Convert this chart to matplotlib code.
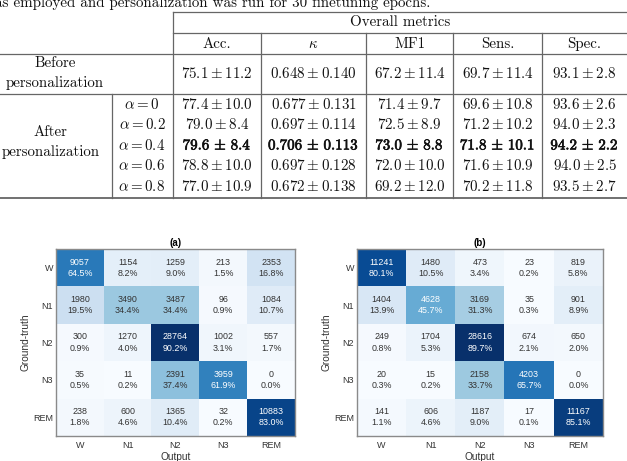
import numpy as np
import matplotlib.pyplot as plt
import matplotlib.patheffects as pe

plt.rcParams['mathtext.fontset'] = 'cm'

W, H = 627, 461

# ---- table data ----
metric_names = ["Acc.", r"$\kappa$", "MF1", "Sens.", "Spec."]
metric_decimals = [1, 3, 1, 1, 1]
before_mean = [75.1, 0.648, 67.2, 69.7, 93.1]
before_std = [11.2, 0.140, 11.4, 11.4, 2.8]
alphas = ["0", "0.2", "0.4", "0.6", "0.8"]
after_mean = [[77.4, 0.677, 71.4, 69.6, 93.6],
              [79.0, 0.697, 72.5, 71.2, 94.0],
              [79.6, 0.706, 73.0, 71.8, 94.2],
              [78.8, 0.697, 72.0, 71.6, 94.0],
              [77.0, 0.672, 69.2, 70.2, 93.5]]
after_std = [[10.0, 0.131, 9.7, 10.8, 2.6],
             [8.4, 0.114, 8.9, 10.2, 2.3],
             [8.4, 0.113, 8.8, 10.1, 2.2],
             [10.0, 0.128, 10.0, 10.9, 2.5],
             [10.9, 0.138, 12.0, 11.8, 2.7]]
best_row = 2
caption = "as employed and personalization was run for 30 finetuning epochs."

# ---- confusion matrices ----
stages = ["W", "N1", "N2", "N3", "REM"]
cm_a = [[9057, 1154, 1259, 213, 2353],
        [1980, 3490, 3487, 96, 1084],
        [300, 1270, 28764, 1002, 557],
        [35, 11, 2391, 3959, 0],
        [238, 600, 1365, 32, 10883]]
cm_b = [[11241, 1480, 473, 23, 819],
        [1404, 4628, 3169, 35, 901],
        [249, 1704, 28616, 674, 650],
        [20, 15, 2158, 4203, 0],
        [141, 606, 1187, 17, 11167]]

fig = plt.figure(figsize=(W / 100, H / 100), dpi=100)

# overlay axes in pixel units for the table
tx = fig.add_axes([0, 0, 1, 1])
tx.set_xlim(0, W)
tx.set_ylim(H, 0)
tx.set_axis_off()
tx.patch.set_visible(False)

fs = 10.8
lc = '#666666'
ink = '#111111'
rm = dict(fontfamily='cmr10', fontsize=fs, ha='center', va='center', color=ink)

tx.text(-5, 6.5, caption, fontfamily='cmr10', fontsize=fs, ha='left', va='baseline', color=ink)

col_edges = [173, 261, 366, 453, 542, 627]
col_mid = [(a + b) / 2 for a, b in zip(col_edges[:-1], col_edges[1:])]

# horizontal rules
tx.plot([173, 627], [12.5, 12.5], color=lc, lw=0.9)
tx.plot([173, 627], [33, 33], color=lc, lw=0.9)
tx.plot([0, 627], [54, 54], color=lc, lw=0.9)
tx.plot([0, 627], [94, 94], color=lc, lw=0.9)
tx.plot([0, 627], [198, 198], color=lc, lw=1.3)
# vertical rules
tx.plot([173, 173], [12.5, 198], color=lc, lw=0.9)
for xe in col_edges[1:-1]:
    tx.plot([xe, xe], [33, 198], color=lc, lw=0.9)
tx.plot([112, 112], [94, 198], color=lc, lw=0.9)

tx.text(400, 22, "Overall metrics", **rm)
for name, xc in zip(metric_names, col_mid):
    tx.text(xc, 44, name, **rm)

tx.text(55, 63, "Before", **rm)
tx.text(55, 83, "personalization", **rm)


def fmt(m, s, d, bold=False):
    if bold:
        return r"$\mathbf{" + f"{m:.{d}f}" + r"}\,\pm\,\mathbf{" + f"{s:.{d}f}" + "}$"
    return "$" + f"{m:.{d}f} \\pm {s:.{d}f}" + "$"


for j, xc in enumerate(col_mid):
    tx.text(xc, 73, fmt(before_mean[j], before_std[j], metric_decimals[j]),
            fontsize=fs, ha='center', va='center', color=ink)

row_y = [104, 124.5, 145, 165.5, 186]
tx.text(50, 132, "After", **rm)
tx.text(51, 152, "personalization", **rm)
bold_fx = [pe.withStroke(linewidth=0.45, foreground=ink)]
for i, yc in enumerate(row_y):
    tx.text(142, yc, r"$\alpha = " + alphas[i] + "$", fontsize=fs,
            ha='center', va='center', color=ink)
    for j, xc in enumerate(col_mid):
        t = tx.text(xc, yc, fmt(after_mean[i][j], after_std[i][j], metric_decimals[j], i == best_row),
                    fontsize=fs, ha='center', va='center', color=ink)
        if i == best_row:
            t.set_path_effects(bold_fx)


def draw_cm(rect, counts, title):
    x0, y0, x1, y1 = rect
    ax = fig.add_axes([x0 / W, 1 - y1 / H, (x1 - x0) / W, (y1 - y0) / H])
    counts = np.array(counts)
    pct = counts / counts.sum(axis=1, keepdims=True) * 100
    ax.imshow(pct, cmap='Blues', vmin=0, vmax=pct.max(), aspect='auto')
    for i in range(5):
        for j in range(5):
            c = 'white' if pct[i, j] > pct.max() / 2 else '#333333'
            ax.text(j, i, f"{counts[i, j]}\n{pct[i, j]:.1f}%", ha='center', va='center',
                    fontsize=6.4, color=c, family='Liberation Sans', linespacing=1.3)
    ax.set_xticks(range(5))
    ax.set_yticks(range(5))
    ax.set_xticklabels(stages, family='Liberation Sans')
    ax.set_yticklabels(stages, family='Liberation Sans')
    ax.tick_params(length=0, labelsize=6.5, labelcolor='#333333', pad=3.5)
    ax.tick_params(axis='y', pad=2)
    for sp in ax.spines.values():
        sp.set_color('#8a8a8a')
        sp.set_linewidth(1.0)
    ax.set_xlabel("Output", fontsize=7.3, family='Liberation Sans', color='#333333', labelpad=1.5)
    ax.set_ylabel("Ground-truth", fontsize=7.3, family='Liberation Sans', color='#333333', labelpad=2)
    ax.set_title(title, fontsize=7, fontweight='bold', family='Liberation Sans', pad=2.5)
    return ax


draw_cm((56, 249, 295, 436), cm_a, "(a)")
draw_cm((357, 249, 603, 436), cm_b, "(b)")

fig.savefig("out.png", dpi=100)
